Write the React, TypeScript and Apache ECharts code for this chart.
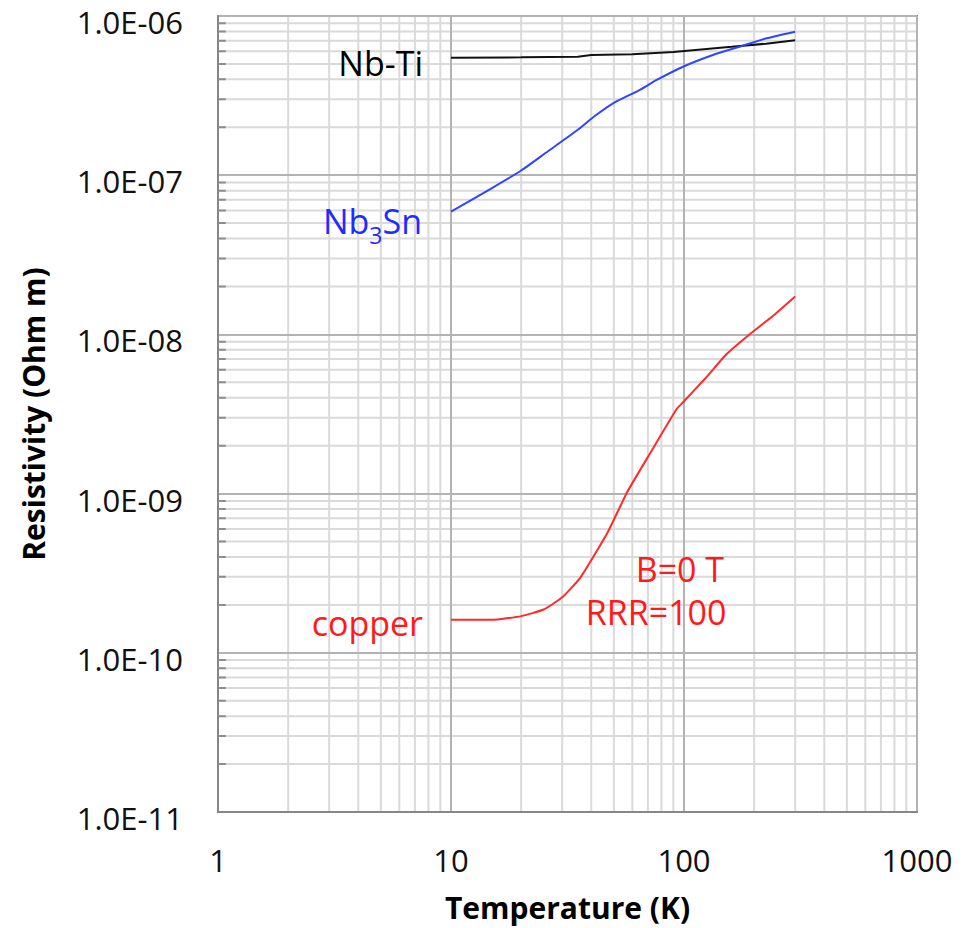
import React, { useEffect, useRef } from "react";
import * as echarts from "echarts";

// Resistivity vs temperature (log-log)
const tempNbTi = [10, 20, 35, 40, 60, 90, 125, 160, 225, 300];
const rhoNbTi = [5.47e-7, 5.5e-7, 5.55e-7, 5.68e-7, 5.75e-7, 5.95e-7, 6.2e-7, 6.4e-7, 6.7e-7, 7.05e-7];

const tempNb3Sn = [10, 15, 20, 26, 35, 41, 50, 65, 76, 99, 133, 173, 226, 300];
const rhoNb3Sn = [5.9e-8, 8.3e-8, 1.07e-7, 1.41e-7, 1.93e-7, 2.33e-7, 2.85e-7, 3.45e-7, 3.95e-7, 4.8e-7, 5.69e-7, 6.41e-7, 7.24e-7, 7.97e-7];

const tempCopper = [10, 15, 20, 25, 30, 36, 47, 57, 72, 93, 100, 125, 152, 191, 240, 300];
const rhoCopper = [1.61e-10, 1.61e-10, 1.7e-10, 1.87e-10, 2.23e-10, 2.98e-10, 5.7e-10, 1.02e-9, 1.82e-9, 3.4e-9, 3.8e-9, 5.4e-9, 7.5e-9, 1.0e-8, 1.3e-8, 1.73e-8];

const xRange = [1, 1000];
const yRange = [1e-11, 1e-6];
const xDecades = [1, 10, 100];
const yDecades = [1e-11, 1e-10, 1e-9, 1e-8, 1e-7];
const minorSteps = [2, 3, 4, 5, 6, 7, 8, 9];

const FONT = "'Open Sans', 'Noto Sans', sans-serif";
const RED = "#ff1a1a";
const BLUE = "#1f2bff";

const pairs = (xs: number[], ys: number[]) => xs.map((x, i) => [x, ys[i]]);

export default function App() {
  const ref = useRef<HTMLDivElement>(null);

  useEffect(() => {
    if (!ref.current) return;
    const chart = echarts.init(ref.current, undefined, { renderer: "svg" });

    const minorX = xDecades.flatMap((d) => minorSteps.map((k) => k * d));
    const minorY = yDecades.flatMap((d) => minorSteps.map((k) => k * d));

    // broken polylines: each gridline is a two-point segment followed by a gap
    const minorGrid: any[] = [
      ...minorX.flatMap((v) => [[v, yRange[0]], [v, yRange[1]], [v, "-"]]),
      ...minorY.flatMap((v) => [[xRange[0], v], [xRange[1], v], [xRange[0], "-"]]),
    ];
    const yMinorTicks: any[] = minorY.flatMap((v) => [[xRange[0], v], [1.08, v], [xRange[0], "-"]]);

    const annotation = (text: string, color: string) => ({
      show: true,
      formatter: text,
      fontFamily: FONT,
      fontSize: 34,
      color,
    });

    const option = {
      animation: false,
      backgroundColor: "#ffffff",
      grid: {
        left: 218,
        top: 16,
        right: 50,
        bottom: 116,
        show: true,
        borderColor: "#878787",
        borderWidth: 2,
        backgroundColor: "transparent",
      },
      xAxis: {
        type: "log",
        logBase: 10,
        min: xRange[0],
        max: xRange[1],
        z: 2,
        name: "Temperature (K)",
        nameLocation: "middle",
        nameGap: 80,
        nameTextStyle: { fontFamily: FONT, fontSize: 30, fontWeight: "bold", color: "#000" },
        axisLine: { show: true, lineStyle: { color: "#878787", width: 2 } },
        axisTick: { show: false },
        axisLabel: {
          margin: 32,
          fontFamily: FONT,
          fontSize: 31,
          color: "#111",
          formatter: (v: number) => String(Math.round(v)),
        },
        splitLine: { show: true, lineStyle: { color: "#b3b3b3", width: 2 } },
      },
      yAxis: {
        type: "log",
        logBase: 10,
        min: yRange[0],
        max: yRange[1],
        z: 2,
        name: "Resistivity (Ohm m)",
        nameLocation: "middle",
        nameGap: 170,
        nameRotate: 90,
        nameTextStyle: { fontFamily: FONT, fontSize: 30, fontWeight: "bold", color: "#000" },
        axisLine: { show: true, lineStyle: { color: "#878787", width: 2 } },
        axisTick: { show: false },
        axisLabel: {
          margin: 35,
          fontFamily: FONT,
          fontSize: 31,
          color: "#111",
          verticalAlign: "top",
          lineHeight: 12,
          formatter: (v: number) => {
            const e = Math.round(Math.log10(v));
            return "1.0E-" + String(-e).padStart(2, "0");
          },
        },
        splitLine: { show: true, lineStyle: { color: "#b3b3b3", width: 2 } },
      },
      series: [
        {
          type: "line",
          z: 1,
          silent: true,
          data: minorGrid,
          showSymbol: false,
          connectNulls: false,
          lineStyle: { color: "#dadada", width: 2 },
        },
        {
          type: "line",
          z: 2,
          silent: true,
          data: yMinorTicks,
          showSymbol: false,
          connectNulls: false,
          lineStyle: { color: "#8c8c8c", width: 2 },
        },
        {
          name: "Nb-Ti",
          type: "line",
          z: 3,
          data: pairs(tempNbTi, rhoNbTi),
          showSymbol: false,
          lineStyle: { color: "#111111", width: 2 },
          markPoint: {
            symbolSize: 0,
            silent: true,
            data: [
              {
                coord: [tempNbTi[0], rhoNbTi[0]],
                label: { ...annotation("Nb-Ti", "#000"), position: "left", distance: 28, offset: [0, 5] },
              },
            ],
          },
        },
        {
          name: "Nb3Sn",
          type: "line",
          z: 3,
          smooth: 0.2,
          data: pairs(tempNb3Sn, rhoNb3Sn),
          showSymbol: false,
          lineStyle: { color: "#2f45ff", width: 2 },
          markPoint: {
            symbolSize: 0,
            silent: true,
            data: [
              {
                coord: [tempNb3Sn[0], rhoNb3Sn[0]],
                label: {
                  show: true,
                  position: "left",
                  distance: 29,
                  offset: [0, 14],
                  formatter: "{a|Nb}{s|3}{a|Sn}",
                  rich: {
                    a: { fontFamily: FONT, fontSize: 34, color: BLUE, lineHeight: 44, verticalAlign: "top" },
                    s: { fontFamily: FONT, fontSize: 23, color: BLUE, lineHeight: 44, verticalAlign: "top", padding: [20, 0, 0, 0] },
                  },
                },
              },
            ],
          },
        },
        {
          name: "copper",
          type: "line",
          z: 3,
          smooth: 0.15,
          data: pairs(tempCopper, rhoCopper),
          showSymbol: false,
          lineStyle: { color: "#ff2a2a", width: 2 },
          markPoint: {
            symbolSize: 0,
            silent: true,
            data: [
              {
                coord: [tempCopper[0], rhoCopper[0]],
                label: { ...annotation("copper", RED), position: "left", distance: 28, offset: [0, 3] },
              },
              {
                coord: [96, 3.35e-10],
                label: { ...annotation("B=0 T", RED), position: "inside" },
              },
              {
                coord: [75.9, 1.8e-10],
                label: { ...annotation("RRR=100", RED), position: "inside" },
              },
            ],
          },
        },
      ],
    };

    chart.setOption(option as any);
    return () => chart.dispose();
  }, []);

  return (
    <div
      ref={ref}
      style={{ position: "fixed", left: 0, top: 0, width: 967, height: 928, background: "#fff" }}
    />
  );
}
